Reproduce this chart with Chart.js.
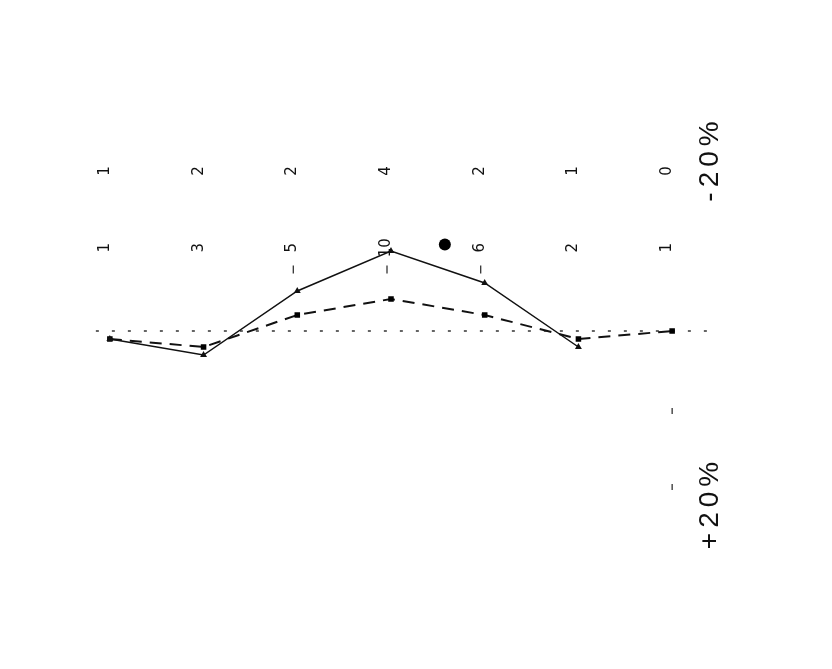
<!DOCTYPE html>
<html>
<head>
<meta charset="utf-8">
<script src="https://cdn.jsdelivr.net/npm/chart.js@4.4.1/dist/chart.umd.min.js"></script>
<style>
  html, body { margin: 0; padding: 0; background: #fff; }
  #wrap { width: 832px; height: 669px; }
</style>
</head>
<body>
<div id="wrap"><canvas id="myChart" width="832" height="669"></canvas></div>
<script>
// chart data
const categories = ['1', '2', '3', '4', '5', '6', '7'];
const solidValues = [1, 3, -5, -10, -6, 2, null];
const dashedValues = [1, 2, -2, -4, -2, 1, 0];
const solidLabels = ['1', '3', '5', '10', '6', '2', '1'];
const dashedLabels = ['1', '2', '2', '4', '2', '1', '0'];
const axisLabels = ['-20%', '+20%'];
const axisLabelValues = [-21.5, 21.5];

// draws the rotated text, the zero line and the small marks
const scanExtras = {
    id: 'scanExtras',
    beforeDatasetsDraw(chart) {
        const ctx = chart.ctx;
        const x = chart.scales.x;
        const y = chart.scales.y;
        const y0 = y.getPixelForValue(0);
        ctx.save();
        ctx.strokeStyle = '#333';
        ctx.lineWidth = 1.5;
        ctx.setLineDash([3, 13]);
        ctx.beginPath();
        ctx.moveTo(x.getPixelForValue(0) - 14, y0);
        ctx.lineTo(x.getPixelForValue(6) + 36, y0);
        ctx.stroke();
        ctx.restore();
    },
    afterDatasetsDraw(chart) {
        const ctx = chart.ctx;
        const x = chart.scales.x;
        const y = chart.scales.y;

        function upText(txt, px, py, font, spacing) {
            ctx.save();
            ctx.translate(px, py);
            ctx.rotate(-Math.PI / 2);
            ctx.font = font;
            ctx.letterSpacing = spacing || '0px';
            ctx.fillStyle = '#111';
            ctx.textAlign = 'center';
            ctx.textBaseline = 'alphabetic';
            ctx.fillText(txt, 0, 0);
            ctx.restore();
        }

        // two rows of numbers over the plot
        const rowTop = y.getPixelForValue(-20);
        const rowLow = y.getPixelForValue(-10.4);
        categories.forEach(function (c, i) {
            const px = x.getPixelForValue(i);
            upText(dashedLabels[i], px - 1, rowTop, '15px "DejaVu Sans"');
            upText(solidLabels[i], px - 1, rowLow, '15px "DejaVu Sans"');
        });

        // little tick marks under some numbers
        ctx.save();
        ctx.strokeStyle = '#222';
        ctx.lineWidth = 1.2;
        [2, 3, 4].forEach(function (i) {
            const px = x.getPixelForValue(i) - 4;
            ctx.beginPath();
            ctx.moveTo(px, y.getPixelForValue(-8.2));
            ctx.lineTo(px, y.getPixelForValue(-7.2));
            ctx.stroke();
        });
        [10, 19.5].forEach(function (v) {
            const py = y.getPixelForValue(v);
            const px = x.getPixelForValue(6);
            ctx.beginPath();
            ctx.moveTo(px, py - 3);
            ctx.lineTo(px, py + 3);
            ctx.stroke();
        });
        ctx.restore();

        // value axis labels on the right
        const ax = x.getPixelForValue(6) + 46;
        axisLabels.forEach(function (t, i) {
            upText(t, ax, y.getPixelForValue(axisLabelValues[i]), '28px "Liberation Sans"', '5px');
        });

        // the black dot
        ctx.save();
        ctx.fillStyle = '#000';
        ctx.beginPath();
        ctx.arc((x.getPixelForValue(3) + x.getPixelForValue(4)) / 2 + 7, y.getPixelForValue(-10.8), 6, 0, Math.PI * 2);
        ctx.fill();
        ctx.restore();
    }
};

let myChart = document.getElementById('myChart').getContext('2d');

let scanChart = new Chart(myChart, {
    type: 'line',
    data: {
        labels: categories,
        datasets: [{
            label: 'solid',
            data: solidValues,
            borderColor: '#111',
            borderWidth: 1.5,
            pointStyle: 'triangle',
            pointRadius: 2.5,
            pointBackgroundColor: '#111',
            pointBorderColor: '#111',
            tension: 0,
            spanGaps: false
        }, {
            label: 'dashed',
            data: dashedValues,
            borderColor: '#111',
            borderWidth: 2,
            borderDash: [12, 8],
            pointStyle: 'rect',
            pointRadius: 2.5,
            pointBackgroundColor: '#000',
            pointBorderColor: '#000',
            tension: 0
        }]
    },
    options: {
        responsive: false,
        animation: false,
        clip: false,
        layout: {
            padding: { left: 63, right: 113, top: 171, bottom: 178 }
        },
        plugins: {
            legend: { display: false },
            tooltip: { enabled: false }
        },
        scales: {
            x: {
                type: 'category',
                offset: true,
                display: false
            },
            y: {
                min: -20,
                max: 20,
                reverse: true,
                display: false
            }
        }
    },
    plugins: [scanExtras]
});
</script>
</body>
</html>
